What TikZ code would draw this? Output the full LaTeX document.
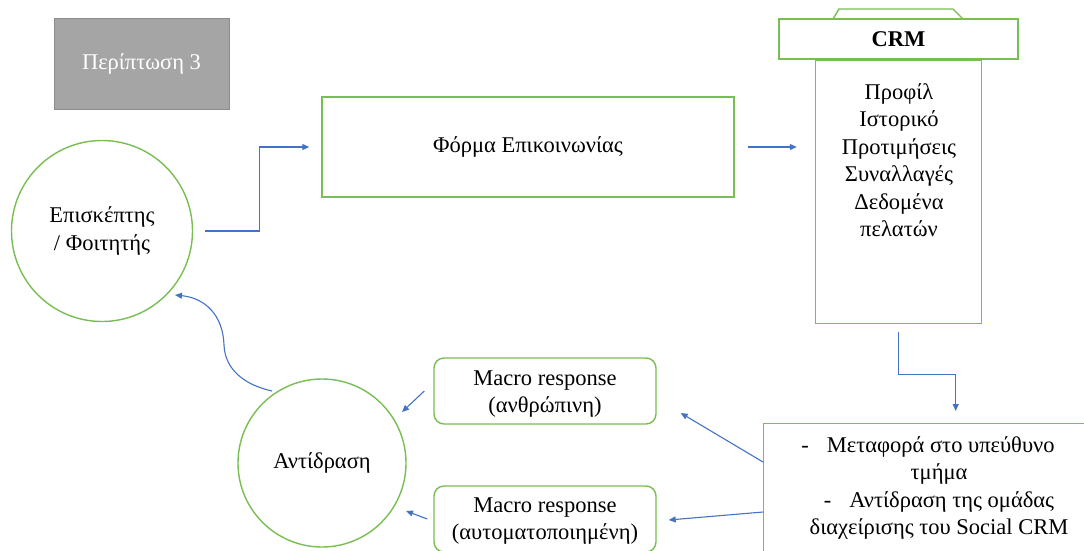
\documentclass[tikz,border=0pt]{standalone}
\usepackage{fontspec}
\setmainfont{Liberation Serif}
\usetikzlibrary{arrows.meta,calc}
\definecolor{boxgreen}{HTML}{78BE52}
\definecolor{arrowblue}{HTML}{4472C4}
\definecolor{tagfill}{HTML}{A5A5A5}
\definecolor{tagline}{HTML}{8C8C8C}
\begin{document}
\begin{tikzpicture}[x=1pt,y=1pt,
  greenbox/.style={draw=boxgreen, line width=1.4pt, inner sep=0pt, fill=white},
  txt/.style={font=\fontsize{22.5}{27.5}\selectfont, align=center, inner sep=0pt},
  arr/.style={draw=arrowblue, line width=1.1pt, -{Triangle[length=7pt,width=6pt]}}]
\useasboundingbox (0,0) rectangle (1084,-550);
\clip (0,0) rectangle (1084,-550);

% case label
\node[draw=tagline, fill=tagfill, line width=1pt, minimum width=175, minimum height=91,
      txt, text=white] (case) at (141.5,-63.5) {Περίπτωση 3};

% visitor and reaction circles
\node[greenbox, circle, minimum size=181, txt] (visitor) at (102,-231) {Επισκέπτης\\/ Φοιτητής};
\node[greenbox, circle, minimum size=168, txt] (reaction) at (322,-463) {Αντίδραση};

% contact form
\node[greenbox, minimum width=412, minimum height=100, txt] (form) at (528,-147) {Φόρμα Επικοινωνίας};

% CRM store: tab, header and body
\draw[boxgreen, line width=1.4pt] (833,-19) -- (839,-9) -- (953,-9) -- (963,-19);
\node[greenbox, minimum width=239, minimum height=40, txt, font=\fontsize{22.5}{27.5}\selectfont\bfseries] (crmhead) at (898.5,-39) {CRM};
\node[greenbox, anchor=north, minimum width=166, minimum height=263] (crmbody) at (crmhead.south) {};
\node[txt] (crmdata) at (899,-160) {Προφίλ\\Ιστορικό\\Προτιμήσεις\\Συναλλαγές\\Δεδομένα\\πελατών};

% responses
\node[greenbox, rounded corners=10pt, minimum width=222, minimum height=66] (macroA) at (545,-391) {};
\node[txt] (macroAtext) at (545,-394) {Macro response\\(ανθρώπινη)};
\node[greenbox, rounded corners=10pt, minimum width=222, minimum height=66] (macroB) at (545,-519) {};
\node[txt] (macroBtext) at (545,-521) {Macro response\\(αυτοματοποιημένη)};

% social CRM team box
\node[greenbox, anchor=north west, minimum width=340, minimum height=170] (team) at (763,-423) {};
\node[txt] (teamtext) at (939,-488) {-\hspace{18pt}Μεταφορά στο υπεύθυνο\hspace*{22pt}\\τμήμα\\-\hspace{18pt}Αντίδραση της ομάδας\hspace*{22pt}\\διαχείρισης του Social CRM};

% connectors
\draw[arr, shorten <=12pt, shorten >=12pt] (visitor.east) -- ++(66,0) |- (form.west);
\draw[arr, shorten <=13pt, shorten >=18pt] (form.east) -- (crmbody.west |- form.east);
\draw[arr, shorten <=8pt, shorten >=12pt] (crmbody.south) -- ++(0,-50) -| ([xshift=22pt]team.north);
\draw[arr] ([yshift=-39pt]team.north west) -- ([shift={(24,-22)}]macroA.east);
\draw[arr] ([yshift=-89pt]team.north west) -- ([shift={(12,-1)}]macroB.east);
\draw[arr] ([xshift=-9pt]macroA.west) -- ([shift={(80,51)}]reaction.center);
\draw[arr] ([xshift=-6pt]macroB.west) -- ([shift={(84,-48)}]reaction.center);
\draw[arr] ([shift={(-50,72)}]reaction.center)
  .. controls (245,-385) and (225,-370) .. (224,-345)
  .. controls (223,-315) and (205,-298) .. ([shift={(73,-64)}]visitor.center);
\end{tikzpicture}
\end{document}
